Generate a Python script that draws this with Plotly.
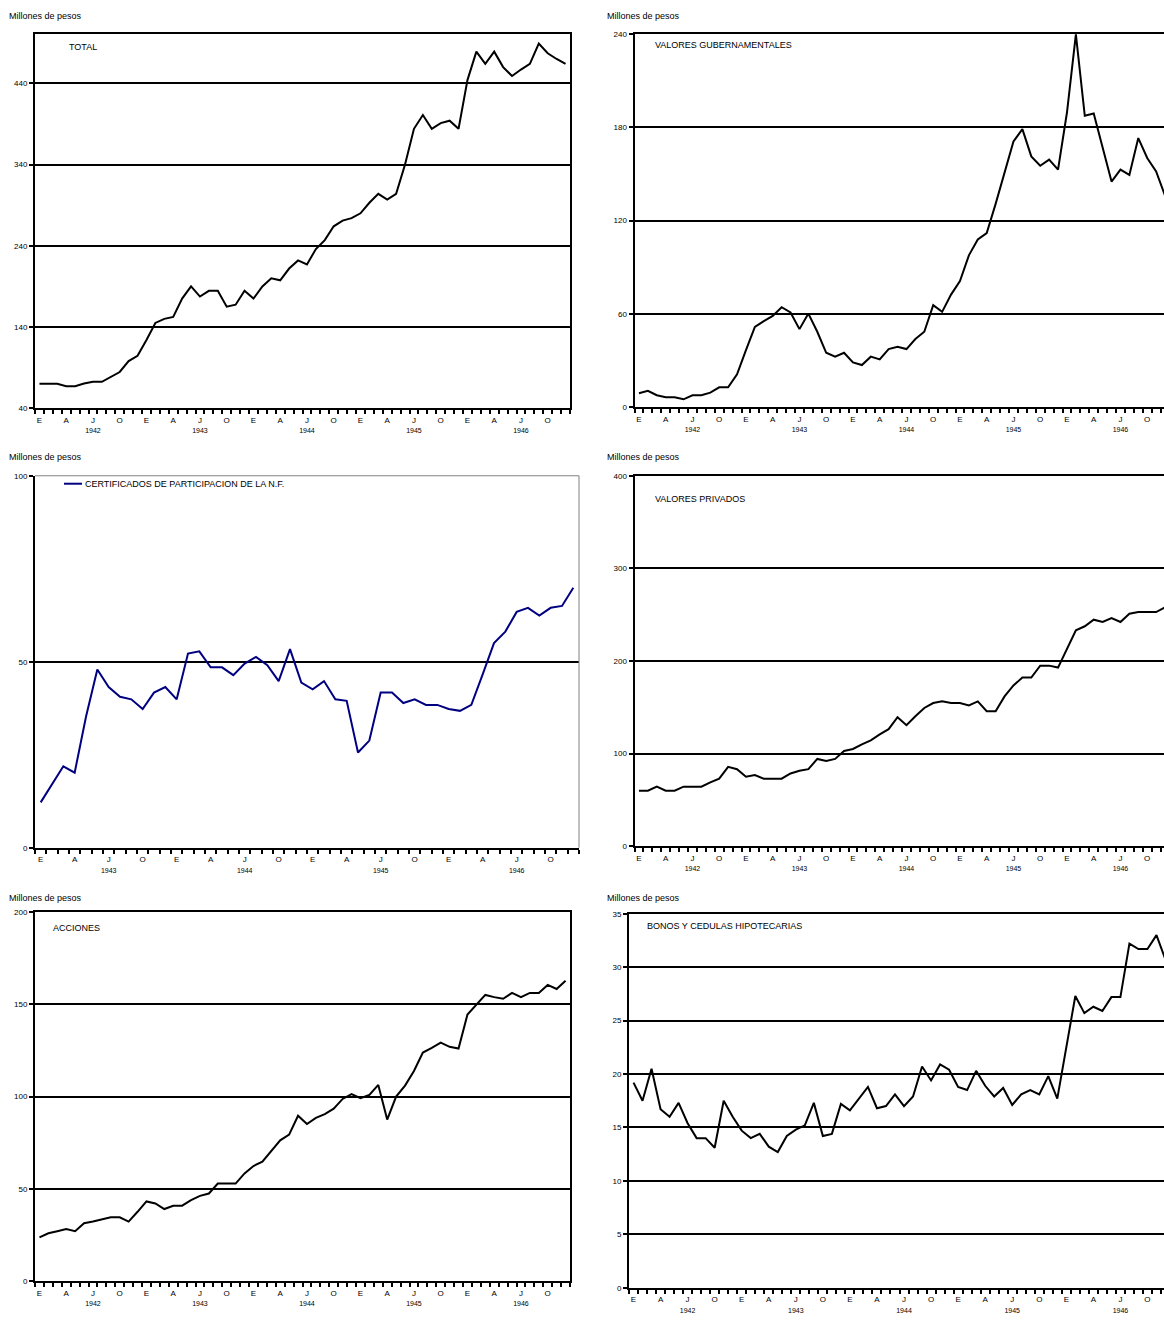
import plotly.graph_objects as go

W, H = 1164, 1324

# ---------------- data (millones de pesos, mensual) ----------------
total = [70, 70, 70, 67, 67, 70.5, 72.5, 72.5, 79, 84.6, 98, 104.6,
         124, 145, 150, 152.5, 175, 190, 177.5, 184.6, 184.6, 165, 167.5, 184.6,
         175, 190, 200, 197.5, 212, 222, 217, 236, 247, 264, 271, 274,
         280, 293, 304, 297, 304, 340, 384, 401, 384, 391, 394, 384,
         444, 479, 464, 479, 460, 449, 457, 464, 489, 477, 470, 464]

gubernamentales = [9.0, 10.5, 7.7, 6.4, 6.4, 5.1, 7.7, 7.7, 9.4, 12.8, 12.8, 21.1,
                   36.7, 51.7, 55.3, 58.7, 64.3, 60.9, 50.2, 60.2, 48.5, 35.0, 32.5, 35.0,
                   28.8, 27.1, 32.5, 30.7, 37.4, 38.9, 37.4, 43.8, 48.5, 65.6, 61.3, 72.4,
                   81.1, 97.6, 107.8, 111.9, 130.7, 151, 170.8, 178.7, 161.2, 155.2, 159.1, 152.7,
                   189.4, 239.6, 187.3, 188.8, 166.6, 145, 152.7, 149.3, 173, 160.2, 151.6, 136]

certificados = [12.2, 17.1, 21.9, 20.2, 35.2, 47.9, 43.2, 40.6, 39.9, 37.3, 41.7, 43.2,
                39.9, 52.2, 52.8, 48.5, 48.5, 46.4, 49.5, 51.3, 49.1, 44.8, 53.4, 44.4,
                42.6, 44.8, 39.9, 39.5, 25.6, 28.8, 41.7, 41.7, 38.9, 39.9, 38.4, 38.4,
                37.3, 36.8, 38.4, 46.6, 55, 58.1, 63.4, 64.5, 62.4, 64.5, 65, 69.9]

privados = [60, 60, 64.3, 60, 60, 64.3, 64.3, 64.3, 68.9, 72.9, 85.7, 83.2,
            75, 76.8, 72.9, 72.9, 72.9, 78.6, 81.4, 83.2, 94.3, 92.1, 94.3, 102.9,
            105, 110, 114.3, 120.7, 126.4, 139.3, 130.7, 140.4, 149.3, 154.6, 156.4, 154.6,
            154.6, 152.1, 156.4, 145.7, 145.7, 161.8, 173.6, 182.1, 182.1, 195, 195, 192.9,
            213.6, 233.2, 237.5, 244.6, 242.1, 246.4, 242.1, 251, 252.9, 252.9, 252.9, 258]

acciones = [23.8, 26, 27.1, 28.3, 27.1, 31.4, 32.3, 33.3, 34.6, 34.6, 32.3, 37.6,
            43.2, 42.1, 39.1, 40.9, 40.9, 43.9, 46.2, 47.5, 52.9, 52.9, 52.9, 58.4,
            62.4, 64.7, 70.4, 76.3, 79.4, 89.6, 85.1, 88.4, 90.5, 93.4, 98.7, 101.3,
            99.1, 100.9, 106.3, 87.5, 100, 105.9, 113.8, 123.8, 126.3, 129.2, 126.9, 126,
            144.4, 149.8, 155, 153.8, 152.9, 156.1, 153.8, 156.1, 156.1, 160.4, 158.2, 162.7]

bonos = [19.2, 17.5, 20.5, 16.7, 16.0, 17.3, 15.4, 14.0, 14.0, 13.1, 17.5, 16.0,
         14.7, 14.0, 14.4, 13.2, 12.7, 14.2, 14.8, 15.2, 17.3, 14.2, 14.4, 17.2,
         16.6, 17.7, 18.8, 16.8, 17.0, 18.1, 17.0, 17.9, 20.7, 19.4, 20.9, 20.4,
         18.8, 18.5, 20.3, 18.9, 17.9, 18.7, 17.1, 18.1, 18.5, 18.1, 19.8, 17.7,
         22.7, 27.3, 25.7, 26.3, 25.9, 27.2, 27.2, 32.2, 31.7, 31.7, 33.0, 30.7]

month_labels = ["E", "A", "J", "O"]
years_a = [1942, 1943, 1944, 1945, 1946]
years_b = [1943, 1944, 1945, 1946]

ticks_total = [40, 140, 240, 340, 440]
ticks_gub = [0, 60, 120, 180, 240]
ticks_cert = [0, 50, 100]
ticks_priv = [0, 100, 200, 300, 400]
ticks_acc = [0, 50, 100, 150, 200]
ticks_bonos = [0, 5, 10, 15, 20, 25, 30, 35]

titles = ["TOTAL", "VALORES GUBERNAMENTALES", "CERTIFICADOS DE PARTICIPACION DE LA N.F.",
          "VALORES PRIVADOS", "ACCIONES", "BONOS Y CEDULAS HIPOTECARIAS"]
unit_label = "Millones de pesos"

FONT = "Liberation Sans, Arial, sans-serif"


def month_ticks(years):
    vals, texts = [], []
    for k, yr in enumerate(years):
        for q, m in enumerate(month_labels):
            vals.append(12 * k + 3 * q)
            if m == "J":
                texts.append(f"J<br><span style='font-size:7px'>{yr}</span>")
            else:
                texts.append(m)
    return vals, texts


def fx(px):
    return px / W


def fy(py):
    return 1 - py / H


panels = [
    dict(data=total, years=years_a, x0=35, x1=570, yt=30, yb=407, yr=[40, 501], tv=ticks_total,
         color="black", left=True, title=titles[0], tx=67, ty=43, ux=7, uy=12),
    dict(data=gubernamentales, years=years_a, x0=634.5, x1=1169.5, yt=30, yb=406, yr=[0, 240], tv=ticks_gub,
         color="black", left=False, title=titles[1], tx=653, ty=41, ux=605, uy=12),
    dict(data=certificados, years=years_b, x0=35, x1=579, yt=475, yb=849.5, yr=[0, 100], tv=ticks_cert,
         color="#000080", left=True, title=titles[2], tx=83, ty=483, ux=7, uy=456, special=True),
    dict(data=privados, years=years_a, x0=634.5, x1=1169.5, yt=475, yb=848, yr=[0, 400], tv=ticks_priv,
         color="black", left=False, title=titles[3], tx=653, ty=498, ux=605, uy=456),
    dict(data=acciones, years=years_a, x0=35, x1=570, yt=914, yb=1286, yr=[0, 200], tv=ticks_acc,
         color="black", left=True, title=titles[4], tx=51, ty=930, ux=7, uy=900),
    dict(data=bonos, years=years_a, x0=629, x1=1170, yt=916, yb=1292.5, yr=[0, 35], tv=ticks_bonos,
         color="black", left=False, title=titles[5], tx=645, ty=928, ux=605, uy=900),
]

fig = go.Figure()
annotations = []
shapes = []

for i, p in enumerate(panels):
    n = len(p["data"])
    idx = i + 1
    xa = "x" if idx == 1 else f"x{idx}"
    ya = "y" if idx == 1 else f"y{idx}"
    xkey = "xaxis" if idx == 1 else f"xaxis{idx}"
    ykey = "yaxis" if idx == 1 else f"yaxis{idx}"

    fig.add_trace(go.Scatter(x=list(range(n)), y=p["data"], mode="lines",
                             line=dict(color=p["color"], width=2),
                             xaxis=xa, yaxis=ya, showlegend=False, hoverinfo="skip"))

    ppm = (p["x1"] - p["x0"]) / n
    x1_vis = min(p["x1"], W)
    xmax = -0.5 + (x1_vis - p["x0"]) / ppm
    special = p.get("special", False)

    tvals, ttext = month_ticks(p["years"])
    fig.layout[xkey] = dict(
        domain=[fx(p["x0"]), fx(x1_vis)], range=[-0.5, xmax], anchor=ya,
        showline=True, linecolor="black", linewidth=2, mirror=not special,
        showgrid=False, zeroline=False,
        tickmode="array", tickvals=tvals, ticktext=ttext, ticks="",
        ticklabelstandoff=3,
        tickfont=dict(family=FONT, size=8, color="black"),
        minor=dict(tickmode="linear", tick0=-0.5, dtick=1, ticks="outside",
                   ticklen=4, tickwidth=2, tickcolor="black", showgrid=False),
        fixedrange=True,
    )
    fig.layout[ykey] = dict(
        domain=[fy(p["yb"]), fy(p["yt"])], range=p["yr"], anchor=xa,
        showline=True, linecolor="black", linewidth=2,
        mirror=(p["left"] and not special),
        showgrid=True, gridcolor="black", gridwidth=2, zeroline=False,
        tickmode="array", tickvals=p["tv"], ticks="outside", ticklen=4,
        tickwidth=2, tickcolor="black",
        tickfont=dict(family=FONT, size=8, color="black"),
        fixedrange=True,
    )

    if special:
        shapes.append(dict(type="line", xref="paper", yref="paper",
                           x0=fx(p["x0"]), x1=fx(p["x1"]), y0=fy(p["yt"]), y1=fy(p["yt"]),
                           line=dict(color="#808080", width=1)))
        shapes.append(dict(type="line", xref="paper", yref="paper",
                           x0=fx(p["x1"]), x1=fx(p["x1"]), y0=fy(p["yt"]), y1=fy(p["yb"]),
                           line=dict(color="#808080", width=1)))
        shapes.append(dict(type="line", xref="paper", yref="paper",
                           x0=fx(64), x1=fx(82), y0=fy(p["ty"]), y1=fy(p["ty"]),
                           line=dict(color=p["color"], width=2)))

    annotations.append(dict(text=p["title"], xref="paper", yref="paper",
                            x=fx(p["tx"]), y=fy(p["ty"]), xanchor="left", yanchor="middle",
                            showarrow=False, font=dict(family=FONT, size=9, color="black")))
    annotations.append(dict(text=unit_label, xref="paper", yref="paper",
                            x=fx(p["ux"]), y=fy(p["uy"]), xanchor="left", yanchor="middle",
                            showarrow=False, font=dict(family=FONT, size=9, color="black")))

fig.update_layout(
    width=W, height=H, margin=dict(l=0, r=0, t=0, b=0),
    paper_bgcolor="white", plot_bgcolor="white",
    annotations=annotations, shapes=shapes, showlegend=False,
    font=dict(family=FONT, size=8, color="black"),
)

fig.write_html("out.html", config={"displayModeBar": False},
               post_script="document.body.style.margin='0';document.body.style.overflow='hidden';")
